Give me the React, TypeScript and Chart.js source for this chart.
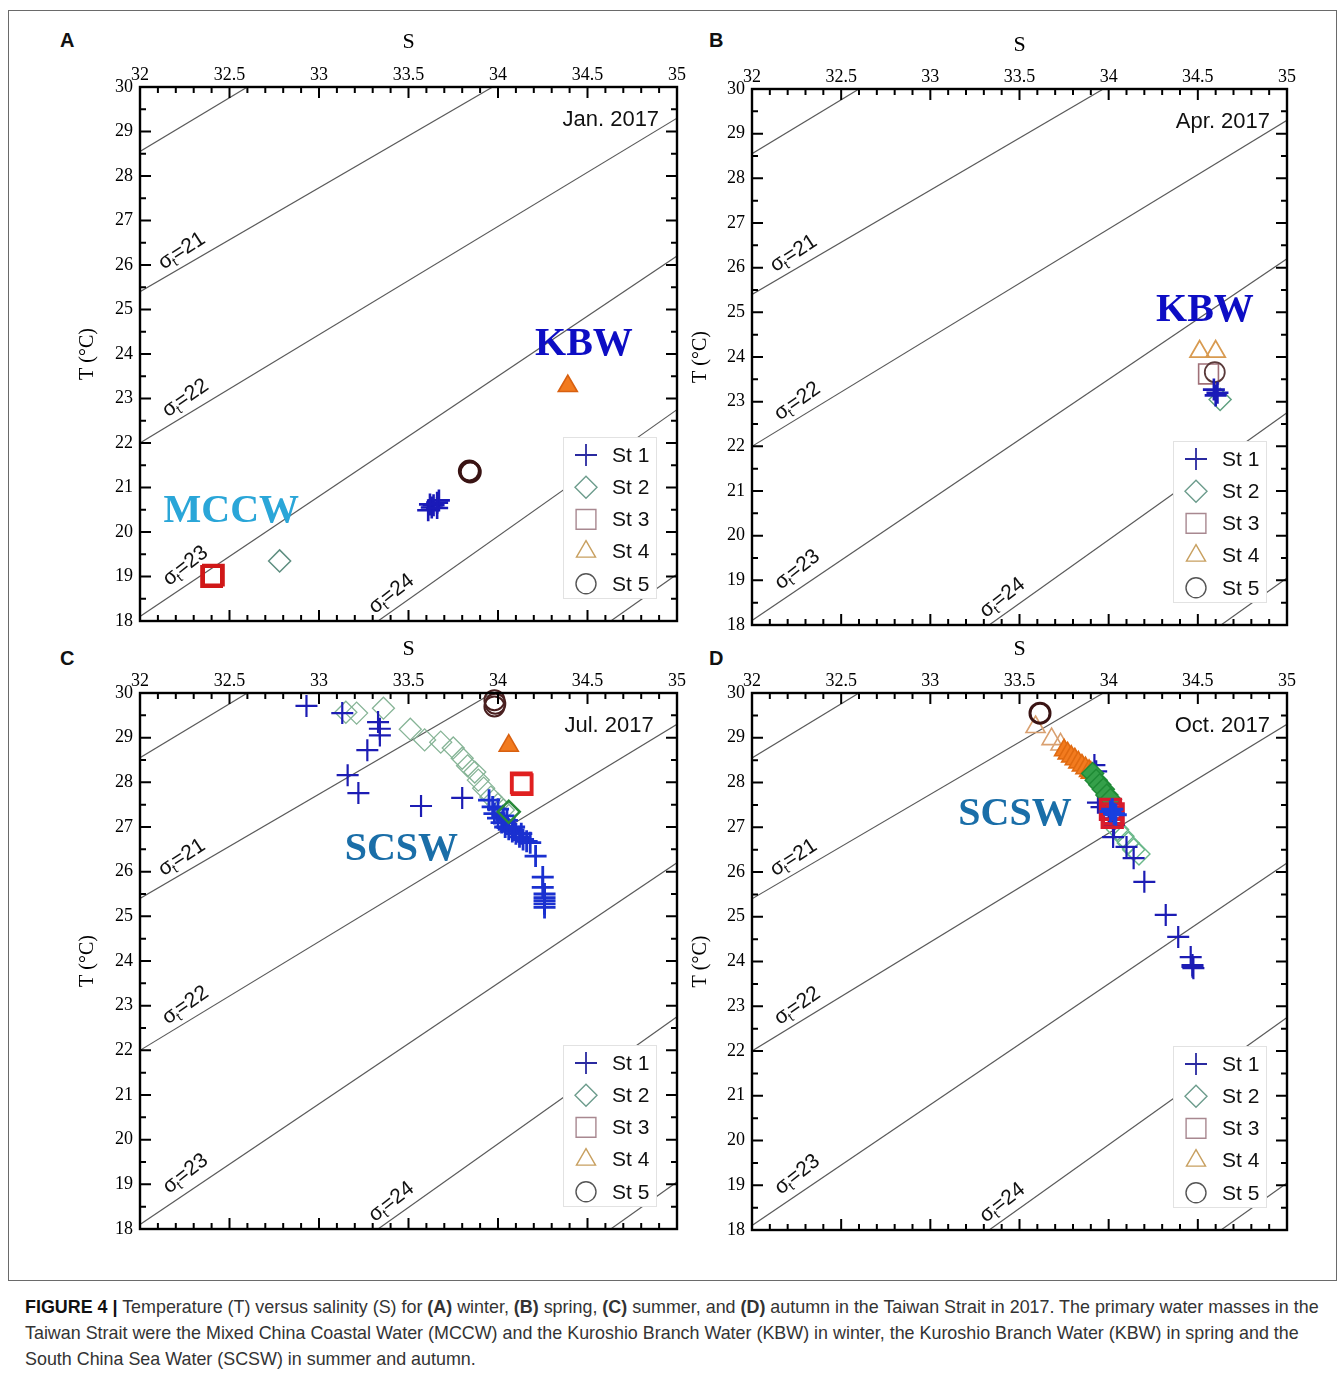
import React, { useEffect, useRef } from 'react';
import { Chart, registerables } from 'chart.js';
import { drawPoint } from 'chart.js/helpers';

Chart.register(...registerables);

type Pt = [number, number];

const SERIF = '"Liberation Serif", "Times New Roman", serif';
const SANS = '"Liberation Sans", Arial, sans-serif';

// ---------- axes ----------
const sTicks = [32, 32.5, 33, 33.5, 34, 34.5, 35];
const tTicks = [18, 19, 20, 21, 22, 23, 24, 25, 26, 27, 28, 29, 30];

// ---------- isopycnals sigma_t (S, T) ----------
const sigma20: Pt[] = [[32, 28.55], [32.6, 30]];
const sigma21: Pt[] = [[32, 25.4], [33.97, 30]];
const sigma22: Pt[] = [[32, 22.0], [35, 29.3]];
const sigma23: Pt[] = [[32, 18.1], [35, 26.2]];
const sigma24: Pt[] = [[33.33, 18], [35, 22.75]];
const sigma25: Pt[] = [[34.63, 18], [35, 19.05]];
const isopycnals = [sigma20, sigma21, sigma22, sigma23, sigma24, sigma25];

// ---------- January 2017 ----------
const janSt1: Pt[] = [[33.61, 20.49], [33.63, 20.55], [33.64, 20.6], [33.66, 20.66], [33.67, 20.71], [33.62, 20.62], [33.66, 20.54]];
const janSt2: Pt[] = [[32.78, 19.35]];
const janSt3: Pt[] = [[32.40, 19.0], [32.41, 19.03]];
const janSt4: Pt[] = [[34.39, 23.28]];
const janSt5: Pt[] = [[33.84, 21.37], [33.845, 21.35]];

// ---------- April 2017 ----------
const aprSt1: Pt[] = [[34.59, 23.27], [34.61, 23.2], [34.6, 23.14]];
const aprSt2: Pt[] = [[34.625, 23.05]];
const aprSt3: Pt[] = [[34.56, 23.62]];
const aprSt4: Pt[] = [[34.51, 24.12], [34.6, 24.12]];
const aprSt5: Pt[] = [[34.595, 23.66]];

// ---------- July 2017 ----------
const julSt1: Pt[] = [
  [32.93, 29.71], [33.13, 29.55], [33.33, 29.35], [33.34, 29.2], [33.34, 29.05],
  [33.27, 28.72], [33.16, 28.16], [33.22, 27.76], [33.57, 27.47], [33.8, 27.65],
];
const julSt1Core: Pt[] = [
  [33.95, 27.6], [33.97, 27.45], [33.98, 27.3], [34.0, 27.2], [34.02, 27.1], [34.04, 27.0],
  [34.06, 26.95], [34.08, 26.9], [34.1, 26.85], [34.12, 26.78], [34.14, 26.72], [34.16, 26.68],
  [34.18, 26.65], [34.03, 27.25], [34.0, 27.4], [34.05, 27.15], [34.09, 27.0], [34.13, 26.85],
  [34.21, 26.35], [34.25, 25.88], [34.25, 25.65], [34.26, 25.5], [34.26, 25.42], [34.26, 25.35],
  [34.26, 25.28], [34.26, 25.2],
];
const julSt2: Pt[] = [
  [33.15, 29.57], [33.21, 29.55], [33.36, 29.66], [33.51, 29.19], [33.59, 28.95], [33.68, 28.9],
  [33.75, 28.77], [33.8, 28.54], [33.83, 28.37], [33.87, 28.23], [33.89, 28.05], [33.92, 27.87],
  [33.96, 27.67], [34.0, 27.51], [34.03, 27.38],
];
const julSt2Deep: Pt[] = [[34.06, 27.34]];
const julSt3: Pt[] = [[34.13, 27.99], [34.135, 27.95]];
const julSt4: Pt[] = [[34.06, 28.82]];
const julSt5: Pt[] = [[33.98, 29.84], [33.985, 29.76], [33.98, 29.7]];

// ---------- October 2017 ----------
const octSt1: Pt[] = [
  [33.92, 28.39], [33.93, 28.25], [33.94, 27.55], [33.96, 27.45], [34.0, 27.35], [34.02, 27.2],
  [34.03, 27.05], [34.025, 26.78], [34.1, 26.56], [34.14, 26.31], [34.2, 25.78], [34.32, 25.04],
  [34.39, 24.55], [34.46, 24.1], [34.47, 23.92], [34.475, 23.85], [34.47, 23.88],
];
const octSt1Core: Pt[] = [[34.01, 27.35], [34.03, 27.3], [34.02, 27.4], [34.04, 27.28]];
const octSt2: Pt[] = [[33.91, 28.2], [33.93, 28.05], [33.95, 27.95], [33.97, 27.85], [33.99, 27.72], [34.01, 27.62]];
const octSt2Deep: Pt[] = [[34.05, 26.95], [34.08, 26.8], [34.11, 26.65], [34.14, 26.5], [34.17, 26.4]];
const octSt3: Pt[] = [[34.01, 27.4], [34.025, 27.3], [34.02, 27.22]];
const octSt4: Pt[] = [[33.59, 29.24], [33.68, 28.97], [33.73, 28.85]];
const octSt4Deep: Pt[] = [[33.75, 28.72], [33.77, 28.65], [33.79, 28.58], [33.81, 28.52], [33.83, 28.45], [33.85, 28.38], [33.87, 28.32], [33.89, 28.26], [33.9, 28.22]];
const octSt5: Pt[] = [[33.615, 29.55]];

const legendLabels = ['St 1', 'St 2', 'St 3', 'St 4', 'St 5'];

// ---------- styles ----------
const NONE = 'rgba(0,0,0,0)';
const plus = (color: string, bw = 2.3) => ({ marker: 'cross', r: 11, color, fill: NONE, bw });
const diamond = (color: string, bw = 1.5, fill = NONE) => ({ marker: 'rectRot', r: 11, color, fill, bw });
const square = (color: string, bw = 1.5) => ({ marker: 'rect', r: 14, color, fill: NONE, bw });
const tri = (color: string, fill = NONE, bw = 1.6) => ({ marker: 'triangle', r: 11, color, fill, bw });
const circ = (color: string, bw = 2) => ({ marker: 'circle', r: 10, color, fill: NONE, bw });

const legendStyles = [
  plus('#2a2aa0', 1.8), diamond('#6c9c8c', 1.4), square('#a88890', 1.4), tri('#c8a060', NONE, 1.4), circ('#555555', 1.4),
];

const sigmaLabels = [
  { text: '21', s: 32.23, t: 26.34, angle: -33 },
  { text: '22', s: 32.25, t: 23.03, angle: -35 },
  { text: '23', s: 32.25, t: 19.26, angle: -38 },
  { text: '24', s: 33.40, t: 18.63, angle: -38 },
];

const panels = [
  {
    id: 'A', canvas: { left: 20, top: 15, w: 680, h: 640 }, area: { left: 140, top: 87, right: 677, bottom: 621 },
    sTitleY: 42, tTitleX: 88, date: 'Jan. 2017', datePos: [34.9, 29.26],
    labels: [
      { text: 'KBW', s: 34.48, t: 24.22, color: '#0d0dc4' },
      { text: 'MCCW', s: 32.51, t: 20.45, color: '#2aa6d8' },
    ],
    series: [
      { data: janSt2, ...diamond('#5e8e80') },
      { data: janSt3, ...square('#d01818', 3) },
      { data: janSt4, ...tri('#d86010', '#f27b1f') },
      { data: janSt5, ...circ('#3a1414', 3) },
      { data: janSt1, ...plus('#1a1ab8', 2.6) },
    ],
  },
  {
    id: 'B', canvas: { left: 632, top: 15, w: 680, h: 640 }, area: { left: 752, top: 89, right: 1287, bottom: 625 },
    sTitleY: 45, tTitleX: 701, date: 'Apr. 2017', datePos: [34.905, 29.26],
    labels: [{ text: 'KBW', s: 34.54, t: 25.03, color: '#0d0dc4' }],
    series: [
      { data: aprSt4, ...tri('#d89a50', NONE, 1.8) },
      { data: aprSt3, ...square('#a07078', 1.6) },
      { data: aprSt5, ...circ('#5a3a3a', 1.8) },
      { data: aprSt2, ...diamond('#5fa080') },
      { data: aprSt1, ...plus('#1a1ab8', 2.6) },
    ],
  },
  {
    id: 'C', canvas: { left: 20, top: 620, w: 680, h: 640 }, area: { left: 140, top: 693, right: 677, bottom: 1229 },
    sTitleY: 649, tTitleX: 88, date: 'Jul. 2017', datePos: [34.87, 29.26],
    labels: [{ text: 'SCSW', s: 33.46, t: 26.49, color: '#1a6ea8' }],
    series: [
      { data: julSt2, ...diamond('#86b496', 1.3) },
      { data: julSt1, ...plus('#1c1cb4', 2.2) },
      { data: julSt1Core, ...plus('#1a30d0', 2.8) },
      { data: julSt2Deep, ...diamond('#2a8a3a', 2.5) },
      { data: julSt3, ...square('#e02020', 3) },
      { data: julSt4, ...tri('#d86010', '#f27b1f') },
      { data: julSt5, ...circ('#4a2020', 2) },
    ],
  },
  {
    id: 'D', canvas: { left: 632, top: 620, w: 680, h: 640 }, area: { left: 752, top: 693, right: 1287, bottom: 1230 },
    sTitleY: 649, tTitleX: 701, date: 'Oct. 2017', datePos: [34.905, 29.26],
    labels: [{ text: 'SCSW', s: 33.475, t: 27.27, color: '#1a6ea8' }],
    series: [
      { data: octSt2Deep, ...diamond('#6ab88a', 1.4) },
      { data: octSt1, ...plus('#1c1cb4', 2.2) },
      { data: octSt4, ...tri('#d9a070', NONE, 1.6) },
      { data: octSt4Deep, ...tri('#e06a10', '#f27b1f') },
      { data: octSt2, ...diamond('#1f8a35', 1.5, '#35a04a') },
      { data: octSt3, ...square('#d81c2c', 3.5) },
      { data: octSt1Core, ...plus('#1840e0', 3) },
      { data: octSt5, ...circ('#3a1414', 3) },
    ],
  },
];

function drawSigmaLabel(ctx: CanvasRenderingContext2D, x: number, y: number, angle: number, val: string) {
  ctx.save();
  ctx.translate(x, y);
  ctx.rotate((angle * Math.PI) / 180);
  ctx.fillStyle = '#111';
  ctx.textAlign = 'left';
  ctx.textBaseline = 'alphabetic';
  const big = `21px ${SANS}`;
  const small = `13px ${SANS}`;
  ctx.font = big;
  const w1 = ctx.measureText('σ').width;
  const w3 = ctx.measureText('=' + val).width;
  ctx.font = small;
  const w2 = ctx.measureText('t').width;
  let x0 = -(w1 + w2 + w3 - 1) / 2;
  ctx.font = big;
  ctx.fillText('σ', x0, 7);
  x0 += w1 - 1;
  ctx.font = small;
  ctx.fillText('t', x0, 11);
  x0 += w2;
  ctx.font = big;
  ctx.fillText('=' + val, x0, 7);
  ctx.restore();
}

function buildConfig(p: any) {
  const XH = p.area.top - (p.sTitleY - 17.2);
  const YW = p.area.left - (p.tTitleX - 16);
  const padding = {
    left: p.area.left - YW - p.canvas.left,
    top: p.area.top - XH - p.canvas.top,
    right: p.canvas.left + p.canvas.w - p.area.right,
    bottom: p.canvas.top + p.canvas.h - p.area.bottom,
  };

  const datasets: any[] = [];
  isopycnals.forEach((line) => {
    datasets.push({
      data: line.map(([x, y]) => ({ x, y })),
      showLine: true, borderColor: '#5a5a5a', borderWidth: 1.2, pointRadius: 0, tension: 0, clip: 0,
    });
  });
  p.series.forEach((s: any) => {
    datasets.push({
      data: s.data.map(([x, y]: Pt) => ({ x, y })),
      showLine: false, pointStyle: s.marker, pointRadius: s.r, pointBorderColor: s.color,
      pointBackgroundColor: s.fill, pointBorderWidth: s.bw, clip: false,
    });
  });
  const N = datasets.length;
  datasets.forEach((d, i) => { d.order = N - i; });

  const decor = {
    id: 'decor' + p.id,
    afterDatasetsDraw(chart: any) {
      const { ctx, chartArea: a } = chart;
      const xs = chart.scales.x;
      const ys = chart.scales.y;
      ctx.save();
      sigmaLabels.forEach((l) => drawSigmaLabel(ctx, xs.getPixelForValue(l.s), ys.getPixelForValue(l.t), l.angle, l.text));
      p.labels.forEach((l: any) => {
        ctx.font = `bold 40px ${SERIF}`;
        ctx.fillStyle = l.color;
        ctx.textAlign = 'center';
        ctx.textBaseline = 'middle';
        ctx.fillText(l.text, xs.getPixelForValue(l.s), ys.getPixelForValue(l.t));
      });
      ctx.font = `22px ${SANS}`;
      ctx.fillStyle = '#111';
      ctx.textAlign = 'right';
      ctx.textBaseline = 'middle';
      ctx.fillText(p.date, xs.getPixelForValue(p.datePos[0]), ys.getPixelForValue(p.datePos[1]));
      // legend
      const bw = 93, bh = 161;
      const bx = a.right - 21 - bw, by = a.bottom - 23 - bh;
      ctx.fillStyle = '#ffffff';
      ctx.fillRect(bx, by, bw, bh);
      ctx.strokeStyle = '#e2e2e2';
      ctx.lineWidth = 1;
      ctx.strokeRect(bx + 0.5, by + 0.5, bw, bh);
      legendLabels.forEach((lab, i) => {
        const st = legendStyles[i];
        const yy = by + 18 + i * 32.2;
        ctx.strokeStyle = st.color;
        ctx.fillStyle = st.fill;
        ctx.lineWidth = st.bw;
        drawPoint(ctx, { pointStyle: st.marker as any, radius: st.r, rotation: 0, borderWidth: st.bw } as any, bx + 23, yy);
        ctx.font = `21px ${SANS}`;
        ctx.fillStyle = '#111';
        ctx.textAlign = 'left';
        ctx.textBaseline = 'middle';
        ctx.fillText(lab, bx + 49, yy + 1);
      });
      // frame
      ctx.strokeStyle = '#000';
      ctx.lineWidth = 2.4;
      ctx.strokeRect(a.left, a.top, a.right - a.left, a.bottom - a.top);
      // inward ticks
      ctx.lineWidth = 2;
      ctx.beginPath();
      for (let k = 0; k <= 30; k++) {
        const v = 32 + k * 0.1;
        const x = xs.getPixelForValue(v);
        const len = k % 5 === 0 ? 11 : 6;
        ctx.moveTo(x, a.top); ctx.lineTo(x, a.top + len);
        ctx.moveTo(x, a.bottom); ctx.lineTo(x, a.bottom - len);
      }
      for (let k = 0; k <= 24; k++) {
        const v = 18 + k * 0.5;
        const y = ys.getPixelForValue(v);
        const len = k % 2 === 0 ? 11 : 6;
        ctx.moveTo(a.left, y); ctx.lineTo(a.left + len, y);
        ctx.moveTo(a.right, y); ctx.lineTo(a.right - len, y);
      }
      ctx.stroke();
      ctx.restore();
    },
  };

  return {
    type: 'scatter',
    data: { datasets },
    options: {
      responsive: false,
      maintainAspectRatio: false,
      animation: false,
      events: [],
      layout: { padding },
      plugins: { legend: { display: false }, tooltip: { enabled: false } },
      scales: {
        x: {
          type: 'linear', position: 'top', min: 32, max: 35,
          afterBuildTicks: (s: any) => { s.ticks = sTicks.map((v) => ({ value: v })); },
          afterFit: (s: any) => { s.height = XH; },
          ticks: { autoSkip: false, maxRotation: 0, padding: 1, color: '#000', font: { family: SERIF, size: 18 }, callback: (v: any) => String(v) },
          grid: { display: false, drawTicks: false },
          border: { display: false },
          title: { display: true, text: 'S', color: '#000', font: { family: SERIF, size: 22 }, padding: { top: 4, bottom: 4 } },
        },
        y: {
          type: 'linear', position: 'left', min: 18, max: 30,
          afterBuildTicks: (s: any) => { s.ticks = tTicks.map((v) => ({ value: v })); },
          afterFit: (s: any) => { s.width = YW; },
          ticks: { autoSkip: false, padding: 7, color: '#000', font: { family: SERIF, size: 18 }, callback: (v: any) => String(v) },
          grid: { display: false, drawTicks: false },
          border: { display: false },
          title: { display: true, text: 'T (°C)', color: '#000', font: { family: SERIF, size: 20 }, padding: { top: 4, bottom: 4 } },
        },
      },
    },
    plugins: [decor],
  };
}

function Panel({ p }: { p: any }) {
  const ref = useRef<HTMLCanvasElement | null>(null);
  useEffect(() => {
    if (!ref.current) return;
    const chart = new Chart(ref.current, buildConfig(p) as any);
    return () => chart.destroy();
  }, [p]);
  return (
    <canvas
      ref={ref}
      width={p.canvas.w}
      height={p.canvas.h}
      style={{ position: 'absolute', left: p.canvas.left, top: p.canvas.top, width: p.canvas.w, height: p.canvas.h }}
    />
  );
}

const letterPos = [
  { t: 'A', x: 60, y: 29 },
  { t: 'B', x: 709, y: 29 },
  { t: 'C', x: 60, y: 647 },
  { t: 'D', x: 709, y: 647 },
];

export default function App() {
  return (
    <div style={{ position: 'absolute', left: 0, top: 0, width: 1344, height: 1376, background: '#fff', overflow: 'hidden' }}>
      <div style={{ position: 'absolute', left: 8, top: 10, width: 1327, height: 1269, border: '1px solid #6a6a6a' }} />
      {letterPos.map((l) => (
        <div key={l.t} style={{ position: 'absolute', left: l.x, top: l.y, font: `bold 20px ${SANS}`, lineHeight: '22px', color: '#111' }}>{l.t}</div>
      ))}
      {panels.map((p) => <Panel key={p.id} p={p} />)}
      <div style={{ position: 'absolute', left: 25, top: 1294, font: `17.9px ${SANS}`, lineHeight: '26px', color: '#333', whiteSpace: 'pre' }}>
        <b style={{ color: '#111' }}>FIGURE 4 |</b> Temperature (T) versus salinity (S) for <b>(A)</b> winter, <b>(B)</b> spring, <b>(C)</b> summer, and <b>(D)</b> autumn in the Taiwan Strait in 2017. The primary water masses in the{'\n'}
        Taiwan Strait were the Mixed China Coastal Water (MCCW) and the Kuroshio Branch Water (KBW) in winter, the Kuroshio Branch Water (KBW) in spring and the{'\n'}
        South China Sea Water (SCSW) in summer and autumn.
      </div>
    </div>
  );
}
